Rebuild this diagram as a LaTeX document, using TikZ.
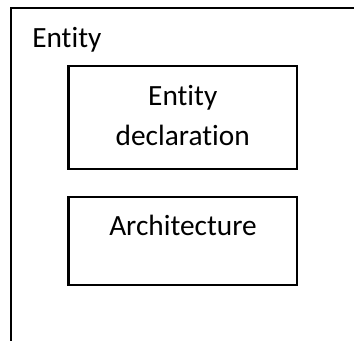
\documentclass[tikz,border=0pt]{standalone}
\usepackage{fontspec}
\setmainfont{Carlito}[Ligatures=NoCommon]
\usepackage{tikz}

\tikzset{
  boxtext/.style={inner sep=0pt, font=\fontsize{22}{30}\selectfont},
}

\begin{document}
\begin{tikzpicture}[x=0.75pt, y=-0.75pt]
  \path[use as bounding box, clip] (0,0) rectangle (354,341);
  \fill[white] (0,0) rectangle (354,341);
  \draw[line width=2.2pt] (11,8) rectangle (380,380);
  \draw[line width=1.6pt] (68.5,66) rectangle (297,169);
  \draw[line width=1.6pt] (68.5,197) rectangle (297,285);
  \node[boxtext, anchor=base west] (entity) at (32,48) {Entity};
  \node[boxtext, align=center] (decl) at (182.75,115.6) {Entity\\declaration};
  \node[boxtext, anchor=base] (arch) at (183,236) {Architecture};
\end{tikzpicture}
\end{document}
